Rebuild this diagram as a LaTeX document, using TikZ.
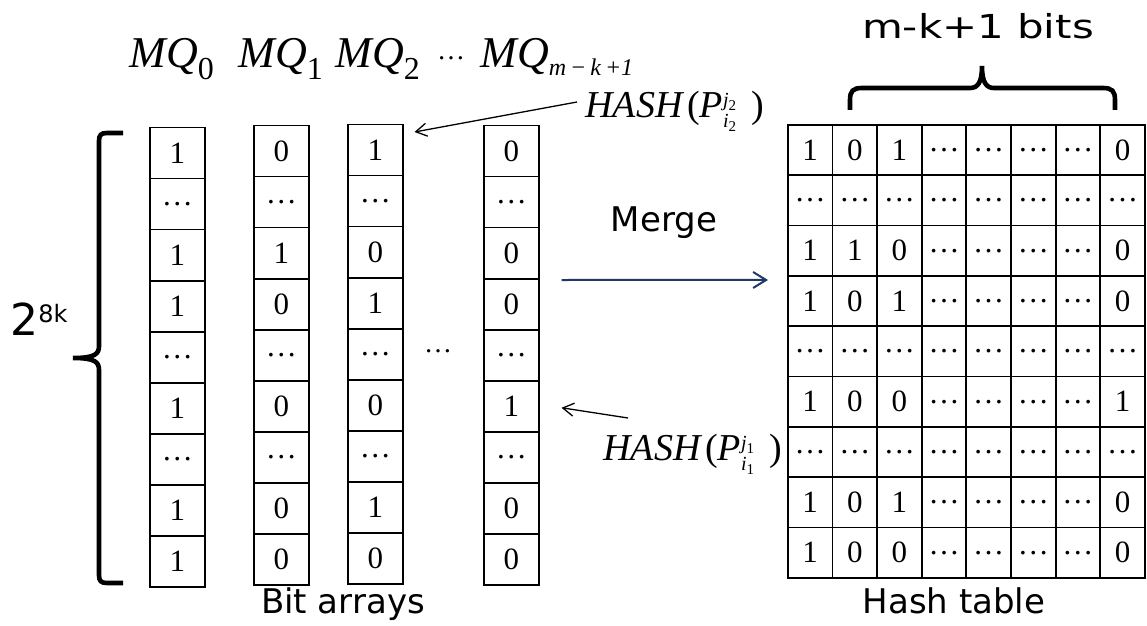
\documentclass[tikz,border=0pt]{standalone}
\usepackage{fontspec}
\usepackage{graphicx}
\setmainfont{Liberation Serif}
\newfontfamily\labelfont{DejaVu Sans}
\usetikzlibrary{arrows.meta,calc}

\definecolor{mergeblue}{RGB}{31,56,100}
% centred ellipsis with no height, so a node centres on the dots
\newcommand\dd{\raisebox{-0.05em}[0pt][0pt]{…}}
\newcommand\mqsub[1]{\raisebox{-6pt}{\upshape\fontsize{16}{16}\selectfont #1}}
\newcommand\hashof[2]{\textit{HASH}\hspace{1.5pt}(\textit{P}%
  \rlap{\raisebox{5.5pt}{\fontsize{10}{10}\selectfont\textit{j}\raisebox{-2pt}{\fontsize{7.5}{7.5}\selectfont #1}}}%
  \rlap{\raisebox{-5pt}{\fontsize{10}{10}\selectfont\textit{i}\raisebox{-2pt}{\fontsize{7.5}{7.5}\selectfont #2}}}%
  \hspace{14pt})}

\tikzset{
  bitcell/.style={draw, line width=0.75pt, minimum width=27.5pt, minimum height=25.5pt,
    inner sep=0pt, anchor=north west, font=\fontsize{15.5}{15.5}\selectfont},
  tabcell/.style={draw, line width=0.9pt, minimum width=22.3pt, minimum height=25.17pt,
    inner sep=0pt, anchor=north west, font=\fontsize{15.5}{15.5}\selectfont},
  mqlabel/.style={anchor=base west, inner sep=0pt, font=\fontsize{22}{22}\selectfont\itshape},
  hashlabel/.style={anchor=base west, inner sep=0pt, font=\fontsize{19}{19}\selectfont},
  sanslabel/.style={anchor=base, inner sep=0pt, font=\labelfont\fontsize{17}{17}\selectfont},
  brace/.style={line width=2.3pt},
  pointer/.style={line width=0.65pt, -{Straight Barb[length=5.5pt,width=6.5pt]}},
  mergearrow/.style={draw=mergeblue, line width=1pt, -{Straight Barb[length=6.5pt,width=8pt]}}
}

\begin{document}
\begin{tikzpicture}[x=0.5pt,y=-0.5pt]
\useasboundingbox (0,0) rectangle (1147,626);

% bit arrays
\foreach \v [count=\r] in {1,\dd,1,1,\dd,1,\dd,1,1}
  \node[bitcell] (c1r\r) at (149,{127+(\r-1)*51}) {\v};
\foreach \v [count=\r] in {0,\dd,1,0,\dd,0,\dd,0,0}
  \node[bitcell] (c2r\r) at (253,{125+(\r-1)*51}) {\v};
\foreach \v [count=\r] in {1,\dd,0,1,\dd,0,\dd,1,0}
  \node[bitcell] (c3r\r) at (347,{124+(\r-1)*51}) {\v};
\foreach \v [count=\r] in {0,\dd,0,0,\dd,1,\dd,0,0}
  \node[bitcell] (c4r\r) at (483,{125+(\r-1)*51}) {\v};
\node[inner sep=0pt, font=\fontsize{14}{14}\selectfont] (gap) at (438,351) {\dd};

% hash table
\foreach \r/\row in {1/{1,0,1,\dd,\dd,\dd,\dd,0},
                     2/{\dd,\dd,\dd,\dd,\dd,\dd,\dd,\dd},
                     3/{1,1,0,\dd,\dd,\dd,\dd,0},
                     4/{1,0,1,\dd,\dd,\dd,\dd,0},
                     5/{\dd,\dd,\dd,\dd,\dd,\dd,\dd,\dd},
                     6/{1,0,0,\dd,\dd,\dd,\dd,1},
                     7/{\dd,\dd,\dd,\dd,\dd,\dd,\dd,\dd},
                     8/{1,0,1,\dd,\dd,\dd,\dd,0},
                     9/{1,0,0,\dd,\dd,\dd,\dd,0}}
  \foreach \v [count=\c] in \row
    \node[tabcell] (h\r-\c) at ({787+(\c-1)*44.625},{124+(\r-1)*50.33}) {\v};

% column headings
\node[mqlabel] (mq0) at (129,68) {MQ\mqsub{0}};
\node[mqlabel] (mq1) at (238,68) {MQ\mqsub{1}};
\node[mqlabel] (mq2) at (335,68) {MQ\mqsub{2}};
\node[inner sep=0pt, font=\fontsize{14}{14}\selectfont] (mqdots) at (451,58) {\dd};
\node[mqlabel] (mqn) at (480,68) {MQ\raisebox{-4pt}{\fontsize{12}{12}\selectfont\textit{m}\,−\,\textit{k}\,+1}};

% hash pointers
\node[hashlabel] (htop) at (585,118) {\hashof{2}{2}};
\node[hashlabel] (hbot) at (603,460) {\hashof{1}{1}};
\draw[pointer] ($(htop.base west)+(-8,-16)$) -- ($(c3r1.north east)+(11,8)$);
\draw[pointer] ($(hbot.base west)+(25,-42)$) -- ($(c4r6.east)+(22,1.5)$);

% merge step
\node[sanslabel] (merge) at (664,232) {Merge};
\draw[mergearrow] ($(c4r4.north east)+(22,2)$) -- ($(h4-1.north west)+(-19,5)$);

% captions
\node[sanslabel] (bitcap) at (343,613) {Bit arrays};
\node[sanslabel] (tabcap) at (954,613) {Hash table};
\node[sanslabel, font=\labelfont\fontsize{16.5}{16.5}\selectfont] (bits) at (978,39)
  {\scalebox{1.27}[1]{m-k+1 bits}};
\node[anchor=base west, inner sep=0pt, font=\labelfont\fontsize{22}{22}\selectfont] (size) at (10,335)
  {2\raisebox{6pt}{\fontsize{12}{12}\selectfont 8k}};

% braces
\draw[brace] (123,133) -- (107,133) .. controls (101,133) and (99,135) .. (99,141)
  -- (99,346) .. controls (99,354) and (95,358) .. (73,358)
  .. controls (95,358) and (99,362) .. (99,370)
  -- (99,575) .. controls (99,581) and (101,583) .. (107,583) -- (123,583);
\draw[brace] (850,110) -- (850,100) .. controls (850,91) and (853,88) .. (862,88)
  -- (970,88) .. controls (978,88) and (982,82) .. (982,66)
  .. controls (982,82) and (986,88) .. (994,88)
  -- (1103,88) .. controls (1112,88) and (1115,91) .. (1115,100) -- (1115,110);
\end{tikzpicture}
\end{document}
